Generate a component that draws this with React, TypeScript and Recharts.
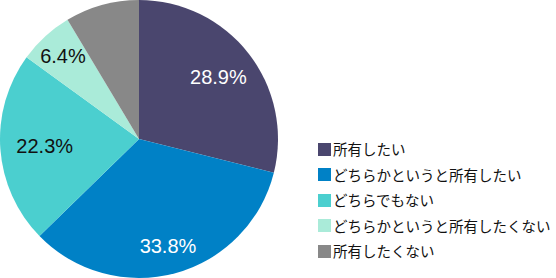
import React from "react";
import { PieChart, Pie, Cell, Legend } from "recharts";

if (typeof document !== "undefined") {
  document.body.style.margin = "0";
}

const categories = [
  "所有したい",
  "どちらかというと所有したい",
  "どちらでもない",
  "どちらかというと所有したくない",
  "所有したくない",
];
const values = [28.9, 33.8, 22.3, 6.4, 8.6];
const showLabel = [true, true, true, true, false];
const colors = ["#4A466E", "#0081C6", "#4BCFCF", "#AAEBD9", "#888888"];
const labelColors = ["#FFFFFF", "#FFFFFF", "#111111", "#111111", "#111111"];
// label distance from centre, as a fraction of the radius (styling)
const labelRadius = [0.725, 0.8, 0.68, 0.81, 0.75];

const data = categories.map((name, i) => ({ name, value: values[i] }));

const RAD = Math.PI / 180;

const renderLabel = (props: any) => {
  const { cx, cy, midAngle, outerRadius, index, value } = props;
  if (!showLabel[index]) return null;
  const r = outerRadius * labelRadius[index];
  const x = cx + r * Math.cos(-midAngle * RAD);
  const y = cy + r * Math.sin(-midAngle * RAD);
  return (
    <text
      x={x}
      y={y}
      fill={labelColors[index]}
      textAnchor="middle"
      dominantBaseline="central"
      fontSize={20}
      fontFamily="'Liberation Sans', Arial, sans-serif"
    >
      {value.toFixed(1)}%
    </text>
  );
};

const renderLegend = () => (
  <div style={{ fontFamily: "'Noto Sans CJK JP', sans-serif", fontSize: 14.5, color: "#111" }}>
    {categories.map((c, i) => (
      <div key={c} style={{ display: "flex", alignItems: "center", height: 25.5, whiteSpace: "nowrap" }}>
        <span style={{ display: "inline-block", width: 13, height: 13, background: colors[i], marginRight: 2 }} />
        <span style={{ lineHeight: "14.5px" }}>{c}</span>
      </div>
    ))}
  </div>
);

export default function App() {
  return (
    <PieChart width={556} height={278} margin={{ top: 0, right: 0, bottom: 0, left: 0 }}>
      <Pie
        data={data}
        dataKey="value"
        nameKey="name"
        cx={139}
        cy={139}
        outerRadius={139}
        innerRadius={0}
        startAngle={90}
        endAngle={-270}
        stroke="none"
        labelLine={false}
        label={renderLabel}
        isAnimationActive={false}
      >
        {data.map((d, i) => (
          <Cell key={d.name} fill={colors[i]} />
        ))}
      </Pie>
      <Legend
        content={renderLegend}
        layout="vertical"
        wrapperStyle={{ position: "absolute", left: 318, top: 136.5, width: 238, bottom: "auto" }}
      />
    </PieChart>
  );
}
